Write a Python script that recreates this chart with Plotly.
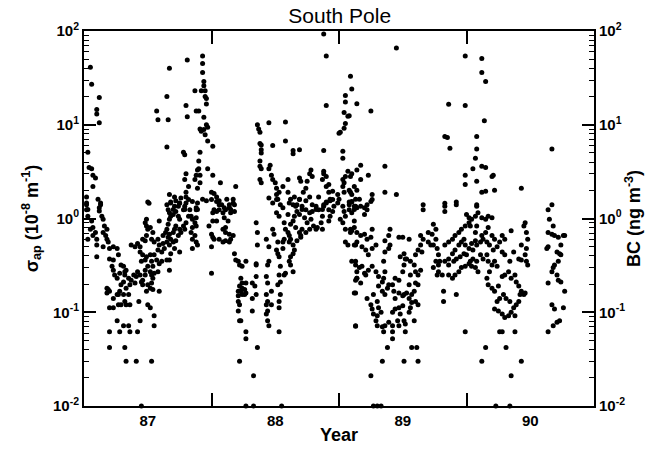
import plotly.graph_objects as go

# (year, sigma_ap [1e-8 m^-1]) pairs, grouped by period
obs_1986 = [
    (86.55, 41), (86.56, 27), (86.62, 19.5), (86.6, 14.5), (86.6, 13), (86.62, 10.5), (86.53, 5.1),
    (86.54, 3.5), (86.56, 3.4), (86.57, 2.9), (86.59, 2.7), (86.57, 2.2), (86.52, 1.7), (86.52, 1.4),
    (86.53, 1.25), (86.61, 1.6), (86.63, 1.4), (86.62, 1.2),
    (86.52, 1.46), (86.52, 1.24), (86.53, 1.06), (86.56, 0.94), (86.57, 0.80), (86.55, 0.77),
    (86.59, 0.71), (86.6, 0.60), (86.6, 0.52), (86.53, 0.60), (86.57, 0.66), (86.63, 1.46),
    (86.62, 1.30), (86.64, 1.06), (86.65, 0.98), (86.66, 0.83), (86.68, 0.77), (86.65, 0.71),
    (86.67, 0.66), (86.68, 0.60), (86.69, 0.56), (86.65, 0.50), (86.6, 0.39), (86.7, 0.48),
    (86.73, 0.50), (86.76, 0.48), (86.77, 0.41), (86.73, 0.36), (86.7, 0.37), (86.72, 0.31),
    (86.73, 0.28), (86.74, 0.25), (86.76, 0.23), (86.78, 0.26), (86.79, 0.197), (86.81, 0.21),
    (86.82, 0.25), (86.83, 0.28), (86.85, 0.23), (86.86, 0.197), (86.87, 0.22), (86.89, 0.25),
    (86.9, 0.205), (86.91, 0.24), (86.92, 0.27), (86.94, 0.25), (86.95, 0.21), (86.96, 0.197),
    (86.79, 0.32), (86.81, 0.31), (86.82, 0.27), (86.83, 0.18), (86.85, 0.155), (86.78, 0.168),
    (86.76, 0.155), (86.73, 0.14), (86.7, 0.168), (86.69, 0.175), (86.68, 0.18), (86.68, 0.16),
    (86.73, 0.112), (86.7, 0.112), (86.77, 0.12), (86.79, 0.12), (86.83, 0.12), (86.86, 0.12),
    (86.82, 0.13), (86.77, 0.155), (86.81, 0.155), (86.93, 0.13), (87.0, 0.12), (87.02, 0.112),
    (86.76, 0.081), (86.81, 0.072), (86.85, 0.072), (86.94, 0.081), (86.7, 0.062), (86.78, 0.062),
    (86.86, 0.062), (86.92, 0.062), (87.05, 0.092), (87.05, 0.072), (86.7, 0.042), (86.82, 0.042),
    (86.83, 0.03), (86.91, 0.03), (87.03, 0.03), (86.95, 0.01),
]

obs_1987 = [
    (86.87, 0.52), (86.9, 0.50), (86.92, 0.54), (86.94, 0.44), (86.96, 0.41), (86.98, 0.36),
    (86.95, 0.35), (86.99, 0.39), (87.02, 0.41), (87.03, 0.35), (87.04, 0.31), (87.0, 0.31),
    (86.98, 0.28), (87.02, 0.27), (87.03, 0.25), (87.04, 0.23), (86.98, 0.25), (86.96, 0.22),
    (87.0, 0.197), (87.02, 0.18), (87.03, 0.205), (86.99, 0.168), (87.04, 0.175), (87.09, 0.168),
    (87.05, 0.26), (87.08, 0.27), (87.09, 0.33), (87.11, 0.35), (87.07, 0.36), (87.05, 0.41),
    (87.08, 0.46), (87.09, 0.52), (87.12, 0.54), (87.11, 0.44), (87.13, 0.48), (87.15, 0.56),
    (87.16, 0.63), (87.14, 0.71), (87.12, 0.66), (87.08, 0.60), (87.05, 0.56), (87.03, 0.60),
    (86.99, 0.66), (86.98, 0.58), (86.96, 0.60), (86.94, 0.50), (87.0, 0.77), (86.99, 0.83),
    (86.99, 0.98), (86.98, 0.90), (87.02, 0.80), (87.04, 0.71), (87.09, 0.94), (87.15, 0.77),
    (87.16, 0.87), (87.17, 0.98), (87.18, 1.06), (87.17, 1.15), (87.16, 1.24), (87.18, 1.46),
    (87.21, 1.35), (87.22, 1.19), (87.2, 1.10), (87.24, 1.06), (87.25, 0.98), (87.22, 0.83),
    (87.21, 0.77), (87.25, 0.77), (87.2, 0.71), (87.17, 0.68), (87.18, 0.60), (87.17, 0.52),
    (87.2, 0.56), (87.22, 0.58), (87.24, 0.66), (87.21, 0.48), (87.18, 0.42), (87.17, 0.36),
    (87.15, 0.36), (87.17, 0.28), (87.25, 0.44), (87.26, 0.71), (87.28, 0.83), (87.29, 0.77),
    (87.3, 0.90), (87.32, 1.06), (87.28, 1.24), (87.29, 1.35), (87.3, 1.46), (87.25, 1.46),
    (87.33, 1.24), (87.34, 1.06), (87.35, 0.98), (87.37, 0.90), (87.38, 1.02), (87.38, 0.83),
    (87.35, 0.80), (87.34, 0.71), (87.37, 0.66), (87.35, 0.60), (87.38, 0.56), (87.39, 0.52),
    (87.35, 0.48), (87.32, 1.59), (87.35, 1.52), (87.39, 1.46), (87.38, 1.24),
    (87.0, 1.5), (87.01, 1.45), (87.07, 14), (87.08, 11.3), (87.15, 20), (87.17, 40), (87.16, 11.3),
    (87.15, 5.8), (87.3, 16), (87.31, 12.2), (87.31, 49), (87.28, 5.1), (87.29, 4.8), (87.3, 3.0),
    (87.29, 2.6), (87.32, 2.2), (87.3, 1.9), (87.3, 1.7), (87.17, 1.8), (87.18, 1.5), (87.21, 1.7),
    (87.22, 1.55), (87.24, 1.35), (87.25, 1.45), (87.26, 1.65), (87.29, 1.25), (87.2, 1.25),
    (87.15, 1.4),
    (87.43, 54), (87.43, 45), (87.43, 36), (87.44, 29), (87.44, 26), (87.42, 23), (87.45, 23),
    (87.45, 20), (87.46, 19), (87.46, 16.6), (87.37, 23), (87.38, 14), (87.4, 14), (87.44, 12),
    (87.46, 10), (87.47, 9.4), (87.41, 9), (87.42, 8.5), (87.44, 8.9), (87.45, 7.8), (87.47, 6.7),
    (87.51, 5.9), (87.41, 5.1), (87.4, 4.1), (87.4, 3.4), (87.41, 2.9), (87.47, 3.4), (87.51, 2.9),
    (87.39, 3.3), (87.38, 2.9), (87.37, 2.6), (87.39, 2.1), (87.41, 2.4), (87.43, 1.6), (87.46, 1.55),
    (87.5, 1.9), (87.52, 1.85), (87.54, 1.7), (87.57, 2.4), (87.56, 1.55), (87.58, 1.4), (87.62, 1.6),
    (87.64, 1.4), (87.67, 1.6), (87.65, 1.25), (87.68, 1.4), (87.69, 2.2), (87.6, 1.3), (87.38, 1.3),
    (87.39, 1.25),
    (87.5, 1.59), (87.54, 1.52), (87.56, 1.40), (87.52, 1.24), (87.51, 1.15), (87.54, 1.19),
    (87.56, 1.24), (87.59, 1.15), (87.61, 1.24), (87.64, 1.30), (87.67, 1.46), (87.68, 1.19),
    (87.65, 1.15), (87.6, 1.02), (87.63, 0.94), (87.61, 0.80), (87.59, 0.77), (87.54, 0.94),
    (87.51, 0.94), (87.5, 0.68), (87.51, 0.63), (87.52, 0.60), (87.5, 0.50), (87.56, 0.60),
    (87.59, 0.56), (87.61, 0.58), (87.67, 0.66), (87.65, 0.60), (87.64, 0.56), (87.5, 0.26),
    (87.61, 0.71), (87.64, 0.68), (87.48, 0.83),
    (87.68, 0.42), (87.69, 0.36), (87.71, 0.35), (87.72, 0.32), (87.74, 0.31), (87.77, 0.35),
    (87.73, 0.23), (87.74, 0.205), (87.72, 0.19), (87.71, 0.168), (87.73, 0.168), (87.76, 0.175),
    (87.74, 0.155), (87.71, 0.15), (87.71, 0.13), (87.72, 0.12), (87.76, 0.155), (87.77, 0.16),
    (87.74, 0.18), (87.77, 0.205), (87.82, 0.205), (87.84, 0.19), (87.85, 0.24), (87.82, 0.14),
    (87.85, 0.155), (87.71, 0.103), (87.72, 0.081), (87.73, 0.081), (87.77, 0.062), (87.77, 0.052),
    (87.72, 0.03), (87.86, 0.042), (87.83, 0.021), (87.82, 0.103), (87.86, 0.71), (87.86, 0.52),
    (87.85, 0.90), (87.85, 0.33), (87.85, 0.32), (87.93, 0.096), (87.94, 0.081), (87.95, 0.072),
    (87.77, 0.01), (87.83, 0.01),
]

obs_1988 = [
    (87.93, 0.60), (87.95, 0.50), (87.95, 0.35), (87.94, 0.32), (87.93, 0.24), (87.94, 0.205),
    (87.93, 0.155), (87.94, 0.13), (87.93, 0.12), (87.94, 0.103), (87.97, 0.12), (87.97, 0.168),
    (87.98, 0.77), (87.99, 0.68), (88.01, 1.15), (88.02, 0.56), (88.01, 0.46), (88.02, 0.42),
    (88.03, 0.39), (88.04, 0.31), (88.03, 0.25), (88.04, 0.21), (88.02, 0.197), (88.04, 0.155),
    (88.03, 0.13), (88.03, 0.062), (88.03, 0.112), (88.06, 0.48), (88.06, 0.56), (88.07, 0.60),
    (88.08, 0.77), (88.1, 0.71), (88.11, 0.66), (88.12, 0.60), (88.11, 0.56), (88.14, 0.52),
    (88.15, 0.46), (88.14, 0.42), (88.12, 0.39), (88.11, 0.35), (88.12, 0.32), (88.14, 0.27),
    (88.08, 0.26), (88.07, 0.25), (88.11, 1.46), (88.14, 1.40), (88.16, 1.35), (88.17, 1.19),
    (88.19, 1.10), (88.15, 1.06), (88.14, 0.94), (88.12, 0.87), (88.16, 0.80), (88.19, 0.71),
    (88.21, 0.77), (88.2, 0.66), (88.17, 0.58), (88.1, 1.10), (88.07, 0.90), (88.03, 1.06),
    (87.98, 1.46), (88.01, 1.59), (87.95, 1.65),
    (88.19, 1.59), (88.21, 1.35), (88.24, 1.24), (88.27, 1.15), (88.29, 1.19), (88.32, 1.35),
    (88.23, 1.02), (88.25, 0.90), (88.28, 0.98), (88.3, 0.83), (88.33, 0.80), (88.36, 0.90),
    (88.37, 1.06), (88.34, 1.24), (88.38, 1.35), (88.4, 1.46), (88.42, 1.24), (88.43, 1.06),
    (88.45, 1.19), (88.42, 0.94), (88.37, 0.77), (88.32, 0.77), (88.27, 0.77), (88.24, 0.71),
    (88.2, 0.63), (88.45, 1.59), (88.49, 1.46), (88.53, 1.35), (88.54, 1.19), (88.55, 1.06),
    (88.58, 1.24), (88.6, 1.52), (88.63, 1.35), (88.62, 0.94), (88.6, 0.74), (88.55, 0.77),
    (88.55, 0.56), (88.57, 0.52), (88.63, 0.52), (88.63, 0.35), (88.64, 0.27), (88.64, 0.23),
    (88.63, 0.16), (88.63, 0.072), (88.51, 0.98), (88.53, 0.90), (88.59, 0.71),
    (87.86, 10), (87.87, 9), (87.88, 8.3), (87.88, 6.3), (87.89, 6.1), (87.89, 5.4), (87.89, 5.0),
    (87.88, 4.1), (87.88, 3.6), (87.89, 3.4), (87.88, 2.6), (87.89, 2.4), (87.95, 10.5), (87.98, 6),
    (87.96, 3.7), (87.95, 3.4), (87.97, 2.9), (87.98, 2.6), (88.0, 2.4), (88.01, 2.1), (88.01, 1.8),
    (88.02, 1.6), (88.04, 1.4), (88.06, 1.3), (88.08, 10.7), (88.08, 6.7), (88.1, 2.6), (88.14, 5.3),
    (88.19, 5.4), (88.14, 4.9), (88.19, 2.7), (88.2, 2.5), (88.27, 3.0), (88.28, 3.3), (88.29, 2.8),
    (88.25, 2.5), (88.24, 2.1), (88.22, 1.9), (88.06, 2.2), (88.03, 1.9), (88.1, 1.9), (88.12, 1.6),
    (88.15, 1.7), (88.17, 1.4), (88.19, 1.6), (88.21, 1.25), (88.24, 1.55), (88.27, 1.7), (88.29, 1.4),
    (88.32, 1.25), (88.34, 1.7), (88.38, 3.0), (88.38, 3.2), (88.4, 2.8), (88.37, 2.6), (88.4, 2.2),
    (88.42, 2.3), (88.42, 1.9), (88.43, 1.6), (88.4, 1.5), (88.38, 1.4), (88.37, 1.25), (88.45, 1.95),
    (88.43, 1.55), (88.49, 1.8), (88.5, 1.6), (88.46, 1.35), (88.53, 2.2), (88.54, 2.4), (88.53, 2.6),
    (88.55, 2.8), (88.57, 3.2), (88.54, 1.9), (88.58, 1.5), (88.6, 1.8), (88.62, 2.2), (88.64, 2.0),
    (88.63, 1.6), (88.62, 1.25),
    (88.38, 93), (88.4, 54), (88.4, 16), (88.38, 5.3), (88.5, 8.1), (88.51, 8.3), (88.53, 5.2),
    (88.53, 4.4), (88.55, 17.5), (88.55, 20.5), (88.59, 33), (88.6, 24), (88.54, 13.5),
    (88.57, 12.3), (88.55, 10.3), (88.54, 9.2), (88.05, 0.01),
]

obs_1989 = [
    (88.95, 66), (88.64, 16.7), (88.75, 14), (88.58, 12.5), (88.86, 3.6), (88.86, 1.9), (88.95, 1.8),
    (88.67, 3.7), (88.64, 3.3), (88.73, 2.9), (88.6, 3.0), (88.59, 2.8), (88.67, 2.6), (88.58, 2.0),
    (88.59, 1.9), (88.76, 1.8), (89.16, 1.4), (88.6, 1.5), (88.62, 1.35), (88.66, 1.6), (88.7, 1.3),
    (88.72, 1.4),
    (88.58, 1.40), (88.6, 1.15), (88.64, 1.30), (88.67, 1.35), (88.7, 1.10), (88.72, 1.24),
    (88.75, 1.52), (88.76, 1.59), (88.59, 0.77), (88.62, 0.80), (88.64, 0.71), (88.67, 0.66),
    (88.7, 0.68), (88.72, 0.60), (88.75, 0.63), (88.76, 0.77), (88.62, 0.52), (88.64, 0.56),
    (88.68, 0.50), (88.71, 0.46), (88.73, 0.41), (88.76, 0.48), (88.79, 0.52), (88.6, 0.35),
    (88.63, 0.32), (88.66, 0.30), (88.68, 0.31), (88.7, 0.26), (88.64, 0.23), (88.63, 0.22),
    (88.67, 0.205), (88.71, 0.25), (88.73, 0.28), (88.76, 0.31), (88.79, 0.27), (88.81, 0.24),
    (88.84, 0.21), (88.85, 0.23), (88.86, 0.27), (88.85, 0.35), (88.86, 0.44), (88.89, 0.48),
    (88.9, 0.52), (88.86, 0.58), (88.89, 0.66), (88.9, 0.77), (88.62, 0.16), (88.72, 0.14),
    (88.75, 0.12), (88.76, 0.108), (88.77, 0.096), (88.8, 0.092), (88.83, 0.1), (88.81, 0.112),
    (88.8, 0.13), (88.77, 0.155), (88.81, 0.19), (88.84, 0.168), (88.86, 0.155), (88.88, 0.18),
    (88.89, 0.197), (88.79, 0.081), (88.8, 0.072), (88.84, 0.07), (88.86, 0.072), (88.89, 0.078),
    (88.63, 0.071), (88.85, 0.062), (88.92, 0.062), (88.88, 0.042), (88.84, 0.03), (88.75, 0.021),
    (88.92, 0.052), (88.92, 0.072), (88.92, 0.1), (88.94, 0.108), (88.97, 0.112), (89.0, 0.117),
    (88.98, 0.096), (88.96, 0.081), (88.97, 0.072), (89.01, 0.081), (89.02, 0.075), (89.02, 0.062),
    (89.01, 0.03), (89.07, 0.042), (89.11, 0.042), (89.12, 0.03), (89.09, 0.081), (89.05, 0.1),
    (89.06, 0.112), (89.07, 0.127), (89.05, 0.14), (89.03, 0.16), (89.01, 0.155), (89.0, 0.15),
    (88.97, 0.16), (88.94, 0.14), (88.93, 0.168), (88.92, 0.197), (88.94, 0.23), (88.97, 0.22),
    (89.0, 0.27), (89.01, 0.32), (89.02, 0.37), (88.98, 0.39), (89.01, 0.42), (88.97, 0.63),
    (89.0, 0.63), (89.05, 0.60), (89.03, 0.37), (89.06, 0.35), (89.09, 0.32), (89.1, 0.27),
    (89.12, 0.25), (89.14, 0.28), (89.1, 0.205), (89.12, 0.197), (89.05, 0.197), (89.07, 0.155),
    (89.09, 0.168), (89.1, 0.13), (89.12, 0.12), (89.06, 0.25), (89.1, 0.41), (89.12, 0.46),
    (89.15, 0.44), (89.14, 0.52), (89.16, 1.24), (89.14, 0.66), (89.16, 0.60), (89.2, 0.71),
    (89.23, 0.68), (89.2, 0.56), (89.22, 0.52), (89.24, 0.52), (89.26, 0.60), (89.26, 0.77),
    (89.24, 0.87), (88.77, 0.01), (88.8, 0.01), (88.83, 0.01),
]

obs_1990 = [
    (89.49, 54), (89.49, 16), (89.36, 16.5), (89.62, 51), (89.62, 36), (89.65, 29), (89.64, 11),
    (89.33, 7.5), (89.35, 7.3), (89.37, 5.6), (89.58, 7.5), (89.58, 5.5), (89.57, 4.4), (89.55, 3.4),
    (89.62, 3.6), (89.65, 3.5), (89.58, 2.5), (89.71, 2.9), (89.7, 2.8), (89.62, 1.9), (89.65, 1.95),
    (89.72, 2.0), (89.93, 2.1), (89.33, 1.45), (89.42, 1.5), (89.58, 1.4), (89.49, 2.9), (89.49, 2.3),
    (89.27, 0.48), (89.28, 0.41), (89.29, 0.35), (89.28, 0.32), (89.28, 0.27), (89.31, 0.25),
    (89.33, 0.35), (89.36, 0.37), (89.39, 0.42), (89.41, 0.46), (89.44, 0.52), (89.46, 0.56),
    (89.49, 0.52), (89.52, 0.48), (89.54, 0.54), (89.57, 0.58), (89.33, 0.52), (89.36, 0.56),
    (89.39, 0.60), (89.41, 0.66), (89.44, 0.71), (89.46, 0.77), (89.49, 0.83), (89.52, 0.90),
    (89.54, 0.98), (89.57, 1.06), (89.59, 1.15), (89.62, 1.02), (89.65, 0.98), (89.67, 1.06),
    (89.7, 1.02), (89.33, 1.35), (89.33, 1.19), (89.42, 1.40), (89.58, 1.35), (89.5, 1.10),
    (89.52, 1.02), (89.53, 0.83), (89.48, 0.60), (89.5, 0.41), (89.53, 0.35), (89.55, 0.37),
    (89.58, 0.35), (89.61, 0.41), (89.63, 0.37), (89.66, 0.41), (89.67, 0.35), (89.7, 0.32),
    (89.72, 0.35), (89.74, 0.31), (89.68, 0.27), (89.66, 0.23), (89.67, 0.197), (89.7, 0.18),
    (89.72, 0.168), (89.75, 0.19), (89.78, 0.24), (89.8, 0.25), (89.83, 0.27), (89.85, 0.23),
    (89.88, 0.25), (89.89, 0.21), (89.91, 0.19), (89.92, 0.155), (89.93, 0.168), (89.89, 0.12),
    (89.87, 0.112), (89.84, 0.13), (89.81, 0.14), (89.79, 0.155), (89.76, 0.14), (89.74, 0.13),
    (89.72, 0.108), (89.75, 0.103), (89.78, 0.096), (89.8, 0.088), (89.83, 0.092), (89.85, 0.1),
    (89.88, 0.092), (89.91, 0.13), (89.95, 0.155), (89.96, 0.16), (89.32, 0.168), (89.32, 0.13),
    (89.42, 0.155), (89.49, 0.062), (89.62, 0.03), (89.65, 0.042), (89.76, 0.062), (89.78, 0.062),
    (89.81, 0.042), (89.85, 0.021), (89.88, 0.062), (89.93, 0.03), (89.36, 0.25), (89.39, 0.23),
    (89.41, 0.25), (89.44, 0.27), (89.46, 0.30), (89.49, 0.31), (89.52, 0.33), (89.54, 0.31),
    (89.57, 0.30), (89.59, 0.27), (89.26, 0.35), (89.24, 0.30), (89.27, 0.25), (89.36, 0.32),
    (89.4, 0.35), (89.42, 0.37), (89.45, 0.39), (89.48, 0.42), (89.55, 0.46), (89.58, 0.52),
    (89.61, 0.56), (89.63, 0.60), (89.66, 0.56), (89.68, 0.52), (89.71, 0.46), (89.74, 0.50),
    (89.76, 0.56), (89.78, 0.44), (89.8, 0.41), (89.84, 0.35), (89.87, 0.44), (89.91, 0.37),
    (89.93, 0.36), (89.96, 0.41), (89.97, 0.35), (89.98, 0.32), (89.97, 0.48), (89.98, 0.60),
    (89.97, 0.71), (89.95, 0.83), (89.96, 0.90), (89.93, 0.52), (89.78, 0.66), (89.8, 0.60),
    (89.85, 0.74), (89.67, 0.80), (89.7, 0.66), (89.72, 0.60), (89.62, 0.66), (89.65, 0.71),
    (89.57, 0.71), (89.58, 0.83), (89.73, 0.01), (89.84, 0.01),
    (90.17, 5.5), (90.17, 1.4), (90.14, 1.24), (90.15, 0.98), (90.14, 0.71), (90.17, 0.68),
    (90.19, 0.66), (90.22, 0.63), (90.27, 0.66), (90.13, 0.48), (90.14, 0.50), (90.21, 0.44),
    (90.23, 0.42), (90.24, 0.41), (90.22, 0.35), (90.19, 0.32), (90.18, 0.30), (90.17, 0.27),
    (90.21, 0.25), (90.22, 0.22), (90.24, 0.21), (90.27, 0.168), (90.14, 0.205), (90.17, 0.12),
    (90.19, 0.108), (90.26, 0.112), (90.14, 0.062), (90.18, 0.072), (90.21, 0.078), (90.23, 0.081),
    (90.18, 0.83), (90.24, 0.52), (90.26, 0.66),
]

x_tick_vals = [87, 88, 89, 90]
x_tick_text = ["87", "88", "89", "90"]
x_half_ticks = [87.5, 88.5, 89.5]
y_tick_vals = [0.01, 0.1, 1, 10, 100]
y_tick_text = ["10<sup>-2</sup>", "10<sup>-1</sup>", "10<sup>0</sup>", "10<sup>1</sup>", "10<sup>2</sup>"]

all_obs = obs_1986 + obs_1987 + obs_1988 + obs_1989 + obs_1990
years = [p[0] for p in all_obs]
sigma = [p[1] for p in all_obs]

minor_y = [m * d for d in (0.01, 0.1, 1, 10) for m in range(2, 10)]

FONT = "Liberation Sans, Arial, sans-serif"
tickfont = dict(family=FONT, size=15, color="black", weight="bold")
titlefont = dict(family=FONT, size=18, color="black", weight="bold")

fig = go.Figure()
fig.add_trace(go.Scatter(
    x=years, y=sigma, mode="markers",
    marker=dict(color="black", size=5, line=dict(width=0)),
    cliponaxis=False, showlegend=False,
))
# invisible trace to activate the right-hand and top axes
fig.add_trace(go.Scatter(x=[years[0]], y=[sigma[0]], xaxis="x2", yaxis="y2", mode="markers",
                         marker=dict(opacity=0), showlegend=False, hoverinfo="skip"))

yaxis_common = dict(
    type="log", range=[-2, 2], showgrid=False, zeroline=False,
    showline=True, linecolor="black", linewidth=2,
    tickmode="array", tickvals=y_tick_vals, ticktext=y_tick_text,
    ticks="inside", ticklen=12, tickwidth=1.5, tickcolor="black", tickfont=tickfont,
    minor=dict(tickmode="array", tickvals=minor_y, ticks="inside", ticklen=5,
               tickwidth=1.2, tickcolor="black", showgrid=False),
)

fig.update_layout(
    width=652, height=454,
    margin=dict(l=84, r=56, t=31, b=40),
    paper_bgcolor="white", plot_bgcolor="white",
    title=dict(text="South Pole", x=0.521, xanchor="center", y=0.982, yanchor="top",
               font=dict(family=FONT, size=21, color="black")),
    xaxis=dict(
        range=[86.5, 90.5], showgrid=False, zeroline=False,
        showline=True, linecolor="black", linewidth=2, mirror=True,
        tickmode="array", tickvals=x_tick_vals, ticktext=x_tick_text,
        ticks="", tickfont=tickfont,
        minor=dict(tickmode="array", tickvals=x_half_ticks, ticks="inside", ticklen=13,
                   tickwidth=1.5, tickcolor="black", showgrid=False),
        title=dict(text="Year", font=titlefont, standoff=0),
    ),
    xaxis2=dict(
        range=[86.5, 90.5], overlaying="x", side="top", showgrid=False, zeroline=False,
        showline=False, showticklabels=False,
        tickmode="array", tickvals=x_half_ticks, ticks="inside", ticklen=13,
        tickwidth=1.5, tickcolor="black",
    ),
    yaxis=dict(**yaxis_common,
               title=dict(text="σ<sub>ap</sub> (10<sup>-8</sup> m<sup>-1</sup>)", font=titlefont, standoff=10)),
    yaxis2=dict(**yaxis_common, overlaying="y", side="right",
                title=dict(text="BC (ng m<sup>-3</sup>)", font=titlefont, standoff=2)),
)

fig.write_html("out.html")
